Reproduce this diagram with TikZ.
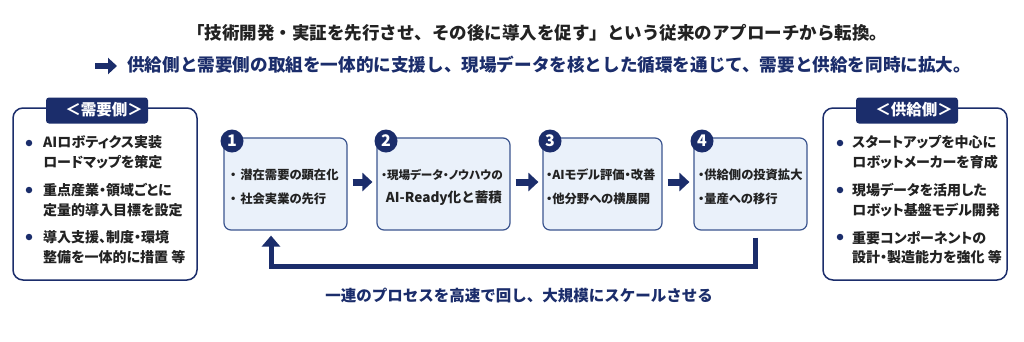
\documentclass[tikz,border=0pt]{standalone}
\usepackage{fontspec}
\setmainfont{Noto Sans CJK JP}
\newfontfamily\jpp{Noto Sans CJK JP}[RawFeature=+palt]
\usetikzlibrary{arrows.meta}
\definecolor{navy}{HTML}{1B2D6B}
\definecolor{boxfill}{HTML}{EAF1FA}
\definecolor{boxline}{HTML}{3B558F}
\definecolor{titlec}{HTML}{222222}
\tikzset{
  sidebox/.style={draw=navy, line width=1.5pt, rounded corners=10pt, fill=white, inner sep=0pt},
  tabbox/.style={fill=navy, rounded corners=3pt, inner sep=0pt, minimum width=102pt, minimum height=26pt},
  tabtext/.style={inner sep=0pt, text=white, font=\bfseries\fontsize{15.5}{17}\selectfont},
  sideitem/.style={anchor=west, align=left, inner sep=0pt, text=titlec, font=\jpp\bfseries\fontsize{14}{19.8}\selectfont},
  dotb/.style={circle, fill=navy, inner sep=0pt, minimum size=6.5pt},
  pbox/.style={draw=boxline, line width=1.2pt, rounded corners=7pt, fill=boxfill, inner sep=0pt, minimum height=92pt},
  numc/.style={circle, fill=navy, inner sep=0pt, minimum size=23pt, text=white, font=\bfseries\fontsize{16}{18}\selectfont},
  ptext/.style={anchor=west, inner sep=0pt, text=titlec, font=\jpp\bfseries\fontsize{12.3}{14}\selectfont},
  flowarrow/.style={draw=navy, line width=7pt, -{Triangle[width=18pt,length=10pt]}, shorten <=5pt, shorten >=4pt},
  looparrow/.style={draw=navy, line width=5pt, -{Triangle[width=18pt,length=11pt]}},
}
\begin{document}
\begin{tikzpicture}[x=1pt,y=-1pt]
\useasboundingbox[fill=white] (0,0) rectangle (1024,341);

% titles
\node[inner sep=0pt, text=titlec, font=\bfseries\fontsize{17.5}{20}\selectfont] (t1) at (537,33)
  {「技術開発・実証を先行させ、その後に導入を促す」という従来のアプローチから転換。};
\coordinate (a0) at (95,66);
\coordinate (a1) at (117,66);
\draw[draw=navy, line width=6pt, -{Triangle[width=16pt,length=9pt]}] (a0) -- (a1);
\node[anchor=west, inner sep=0pt, text=navy, font=\bfseries\fontsize{17.6}{20}\selectfont] (t2) at (127,65)
  {供給側と需要側の取組を一体的に支援し、現場データを核とした循環を通じて、需要と供給を同時に拡大。};

% demand side
\node[sidebox, minimum width=184pt, minimum height=172pt] (dem) at (105,194) {};
\node[tabbox] (demh) at (97,110.5) {};
\node[tabtext] (demt) at (104,110) {＜需要側＞};
\node[dotb] (dd1) at (29,143) {};
\node[sideitem] (d1) at (43,152.5) {AIロボティクス実装\\ロードマップを策定};
\node[dotb] (dd2) at (29,190) {};
\node[sideitem] (d2) at (43,200) {重点産業・領域ごとに\\定量的導入目標を設定};
\node[dotb] (dd3) at (29,237) {};
\node[sideitem] (d3) at (43,247.5) {導入支援、制度・環境\\整備を一体的に措置\ 等};

% supply side
\node[sidebox, minimum width=184pt, minimum height=172pt] (sup) at (915,194) {};
\node[tabbox] (suph) at (907,110.5) {};
\node[tabtext] (supt) at (914,110) {＜供給側＞};
\node[dotb] (sd1) at (840,143) {};
\node[sideitem] (s1) at (852,152.5) {スタートアップを中心に\\ロボットメーカーを育成};
\node[dotb] (sd2) at (840,190) {};
\node[sideitem] (s2) at (852,200) {現場データを活用した\\ロボット基盤モデル開発};
\node[dotb] (sd3) at (840,237) {};
\node[sideitem] (s3) at (852,247.5) {重要コンポーネントの\\設計・製造能力を強化\ 等};

% process boxes
\node[pbox, minimum width=123pt] (b1) at (285.5,184) {};
\node[pbox, minimum width=133pt] (b2) at (443.5,184) {};
\node[pbox, minimum width=119pt] (b3) at (602.5,184) {};
\node[pbox, minimum width=113pt] (b4) at (750.5,184) {};
\node[numc] (n1) at (232,141) {1};
\node[numc] (n2) at (386,141) {2};
\node[numc] (n3) at (550,141) {3};
\node[numc] (n4) at (702,141) {4};

\node[ptext] (b1a) at (230,175) {・\hspace{4pt}潜在需要の顕在化};
\node[ptext] (b1b) at (230,199) {・\hspace{4pt}社会実業の先行};
\node[ptext, font=\jpp\bfseries\fontsize{11.6}{14}\selectfont] (b2a) at (381,175) {・現場データ・ノウハウの};
\node[inner sep=0pt, text=titlec, font=\bfseries\fontsize{13.6}{16}\selectfont] (b2b) at (444,198) {AI-Ready化と蓄積};
\node[ptext] (b3a) at (546,175) {・AIモデル評価・改善};
\node[ptext] (b3b) at (546,199) {・他分野への横展開};
\node[ptext] (b4a) at (698,175) {・供給側の投資拡大};
\node[ptext] (b4b) at (698,199) {・量産への移行};

\draw[flowarrow] ([yshift=2pt]b1.east) -- ([yshift=2pt]b2.west);
\draw[flowarrow] ([yshift=2pt]b2.east) -- ([yshift=2pt]b3.west);
\draw[flowarrow] ([yshift=2pt]b3.east) -- ([yshift=2pt]b4.west);

% feedback loop
\draw[looparrow] ([xshift=4.5pt,yshift=-7pt]b4.south) -- ++(0,29) -| ([xshift=-14.5pt,yshift=-5pt]b1.south);

\node[inner sep=0pt, text=navy, font=\bfseries\fontsize{15.5}{18}\selectfont] (bt) at (519,296)
  {一連のプロセスを高速で回し、大規模にスケールさせる};
\end{tikzpicture}
\end{document}
